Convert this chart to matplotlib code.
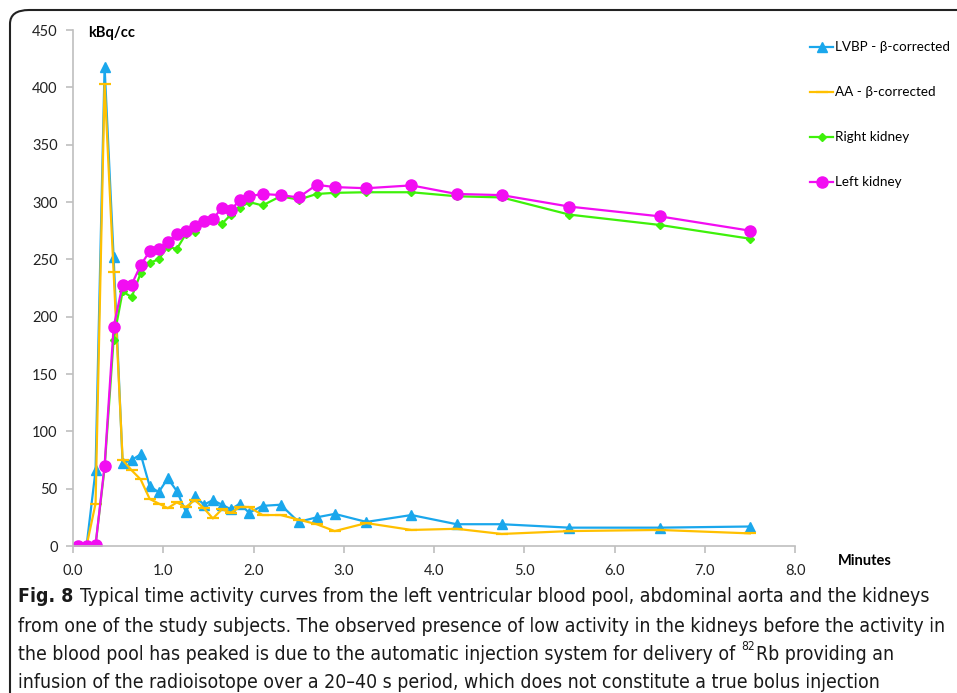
import matplotlib
matplotlib.use("Agg")
import matplotlib.pyplot as plt
from matplotlib.patches import FancyBboxPatch
from matplotlib import font_manager

# tiempos (min) y actividad (kBq/cc)
tiempo = [0.05, 0.15, 0.25, 0.35, 0.45, 0.55, 0.65, 0.75, 0.85, 0.95,
          1.05, 1.15, 1.25, 1.35, 1.45, 1.55, 1.65, 1.75, 1.85, 1.95,
          2.1, 2.3, 2.5, 2.7, 2.9, 3.25, 3.75, 4.25, 4.75, 5.5, 6.5, 7.5]
lvbp = [0, 0, 66, 418, 252, 72, 75, 80, 52, 47,
        59, 48, 30, 44, 36, 40, 36, 32, 37, 29,
        35, 36, 21, 25, 28, 21, 27, 19, 19, 16, 16, 17]
aa = [0, 0, 37, 403, 239, 75, 66, 58, 41, 37,
      33, 38, 34, 40, 33, 24, 32, 29, 34, 34,
      27, 27, 23, 19, 13, 20, 14, 15, 10.5, 13, 14, 11]
rinon_der = [0, 0, 1, 68, 180, 222, 217, 238, 247, 250,
             261, 259, 272, 274, 283, 285, 281, 289, 295, 300,
             297, 305, 302, 307, 308, 308.5, 308.5, 305, 304, 289, 280, 268]
rinon_izq = [0, 0, 1, 70, 191, 228, 228, 245, 257, 259,
             265, 272, 275, 279, 283, 285, 295, 293, 302, 305,
             307, 306, 304, 315, 313, 312, 314.5, 307, 306, 296, 287.5, 275]

etiquetas = ["LVBP - β-corrected", "AA - β-corrected", "Right kidney", "Left kidney"]
yticks = [0, 50, 100, 150, 200, 250, 300, 350, 400, 450]
xticks = [0, 1, 2, 3, 4, 5, 6, 7, 8]

# busca una fuente estrecha para el pie de figura
fuentes = font_manager.fontManager.ttflist
fuente_cap, estiramiento = "DejaVu Sans", "normal"
if any(f.name == "DejaVu Sans" and f.stretch == "condensed" for f in fuentes):
    fuente_cap, estiramiento = "DejaVu Sans", "condensed"
else:
    for f in fuentes:
        if "Narrow" in f.name or "Condensed" in f.name:
            fuente_cap = f.name
            break
fuente_ej = "Lato"

fig = plt.figure(figsize=(9.57, 6.93), dpi=100)

# marco redondeado
marco = FancyBboxPatch((10 / 957, -0.2), 1.2, (693 - 10) / 693 + 0.2,
                       boxstyle="round,pad=0,rounding_size=0.02",
                       transform=fig.transFigure, fill=False,
                       edgecolor="#222222", linewidth=1.5)
fig.patches.append(marco)

ax = fig.add_axes([73 / 957, 1 - 546 / 693, (795 - 73) / 957, (546 - 30) / 693])

ax.plot(tiempo, lvbp, color="#1aa7ec", lw=1.6, marker="^", ms=7.5, label=etiquetas[0])
ax.plot(tiempo, aa, color="#ffc000", lw=1.6, marker="_", ms=9, mew=1.6, label=etiquetas[1])
ax.plot(tiempo, rinon_der, color="#3ef10a", lw=1.6, marker="D", ms=4.5, label=etiquetas[2])
ax.plot(tiempo, rinon_izq, color="#f20df2", lw=1.6, marker="o", ms=8, label=etiquetas[3])

ax.set_xlim(0, 8)
ax.set_ylim(0, 450)
ax.set_xticks(xticks)
ax.set_xticklabels([f"{v:.1f}" for v in xticks], fontfamily=fuente_ej, fontsize=10.5)
ax.set_yticks(yticks)
ax.set_yticklabels([str(v) for v in yticks], fontfamily=fuente_ej, fontsize=10.5)
for s in ["top", "right"]:
    ax.spines[s].set_visible(False)
for s in ["left", "bottom"]:
    ax.spines[s].set_color("#bfbfbf")
    ax.spines[s].set_linewidth(1.2)
ax.tick_params(axis="both", color="#bfbfbf", length=5, width=1.2, labelcolor="#222222")
ax.tick_params(axis="y", pad=6)
ax.tick_params(axis="x", pad=8)

fig.text(88 / 957, 1 - 33 / 693, "kBq/cc", fontfamily=fuente_ej, fontweight="bold",
         fontsize=10.5, va="center", ha="left")
fig.text(865 / 957, 1 - 561 / 693, "Minutes", fontfamily=fuente_ej, fontweight="bold",
         fontsize=10.5, va="center", ha="center")

leg = ax.legend(loc="upper left", bbox_to_anchor=(805 / 957, 1 - 36 / 693),
                bbox_transform=fig.transFigure, frameon=False,
                prop={"family": fuente_ej, "size": 9.7}, labelspacing=2.45,
                handlelength=1.7, handletextpad=0.15, borderaxespad=0)

# leyenda de la figura
lineas = [
    ("Typical time activity curves from the left ventricular blood pool, abdominal aorta and the kidneys", 597),
    ("from one of the study subjects. The observed presence of low activity in the kidneys before the activity in", 626),
    ("the blood pool has peaked is due to the automatic injection system for delivery of ", 654),
    ("infusion of the radioisotope over a 20–40 s period, which does not constitute a true bolus injection", 682),
]
fig.canvas.draw()
rend = fig.canvas.get_renderer()
x0 = 18


def ancho_txt(s, tam, peso="normal"):
    t = fig.text(0, 0, s, fontfamily=fuente_cap, fontstretch=estiramiento,
                 fontweight=peso, fontsize=tam)
    w = t.get_window_extent(rend).width
    t.remove()
    return w


# ajusta el tamaño para que la línea más larga ocupe ~926 px
tam = 16
w1 = ancho_txt("Fig. 8 ", tam, "bold") + ancho_txt(lineas[0][0], tam)
w2 = ancho_txt(lineas[1][0], tam)
tam = min(16, tam * 926 / max(w1, w2))

kw = dict(fontfamily=fuente_cap, fontstretch=estiramiento, fontsize=tam,
          va="center", ha="left", color="#1a1a1a")
t_fig = fig.text(x0 / 957, 1 - 597 / 693, "Fig. 8 ", fontweight="bold", **kw)
ancho = t_fig.get_window_extent(rend).width
for i, (txt, yy) in enumerate(lineas):
    xx = x0 + (ancho if i == 0 else 0)
    t = fig.text(xx / 957, 1 - yy / 693, txt, **kw)
    if i == 2:
        bb = t.get_window_extent(rend)
        kw_sup = dict(kw)
        kw_sup["fontsize"] = tam * 0.62
        sup = fig.text((bb.x1 + 1) / 957, 1 - (yy - 7) / 693, "82", **kw_sup)
        bb2 = sup.get_window_extent(rend)
        fig.text((bb2.x1 + 1) / 957, 1 - yy / 693, "Rb providing an", **kw)

fig.savefig("out.png", dpi=100)
